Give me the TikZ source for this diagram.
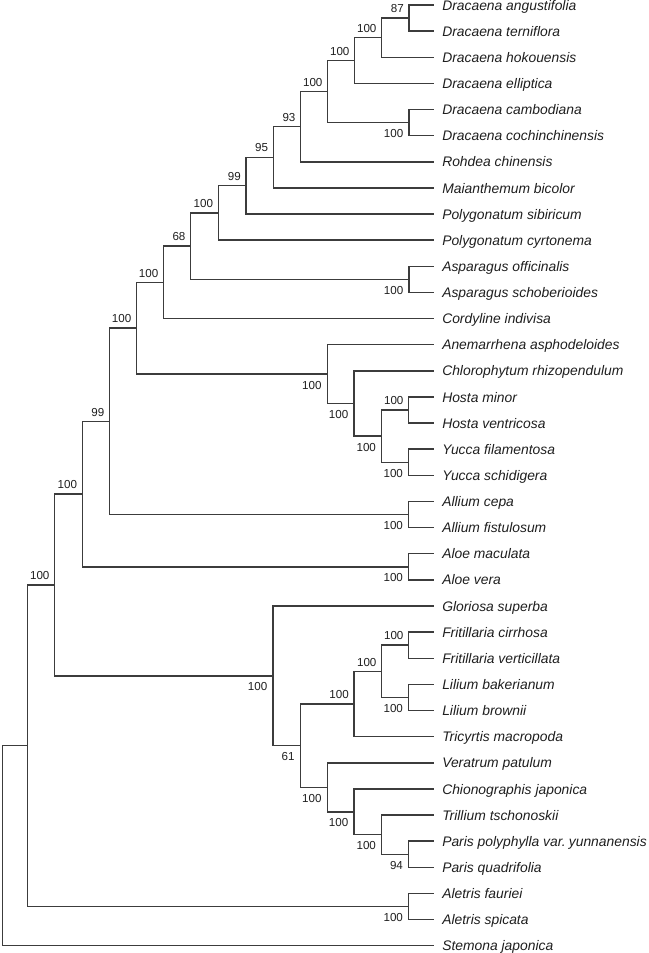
\documentclass[tikz,border=0pt]{standalone}
\usepackage{fontspec}
\setmainfont{Liberation Sans}
\newfontfamily\lsans{Liberation Sans}
\newcommand\taxfont{\lsans\itshape\fontsize{10.4}{12}\selectfont}
\newcommand\bsfont{\lsans\fontsize{8.7}{10}\selectfont}
\definecolor{linegray}{HTML}{3C3C3C}
\definecolor{txtgray}{HTML}{1E1E1E}
\tikzset{
  branch/.style={draw=linegray, line width=1.1pt, line cap=rect},
  taxon/.style={anchor=base west, inner sep=0pt, font=\taxfont, text=txtgray},
  bsup/.style={anchor=base east, inner sep=0pt, font=\bsfont, text=txtgray},
}
\newcommand\bsa[3]{\node[bsup] (#1) at ([shift={(-5,-5.3)}]#2) {#3};}
\newcommand\bsb[3]{\node[bsup] (#1) at ([shift={(-5.5,15)}]#2) {#3};}
\begin{document}
\begin{tikzpicture}[x=0.75pt, y=-0.75pt]
\useasboundingbox (0,0) rectangle (649,953);
% leaf tips
\foreach \i/\yy in {0/5.0,1/31.13,2/57.26,3/83.39,4/109.52,5/135.65,6/161.78,7/187.91,8/214.04,9/240.17,10/266.3,11/292.43,12/318.56,13/344.69,14/370.82,15/396.95,16/423.08,17/449.21,18/475.34,19/501.47,20/527.6,21/553.73,22/579.86,23/605.99,24/632.12,25/658.25,26/684.38,27/710.51,28/736.64,29/762.77,30/788.9,31/815.03,32/841.16,33/867.29,34/893.42,35/919.55,36/945.68}
  {\coordinate (l\i) at (433,\yy);}
% taxon names
\node[taxon] (t0) at ([shift={(9,5.1)}]l0) {Dracaena angustifolia};
\node[taxon] (t1) at ([shift={(9,5.1)}]l1) {Dracaena terniflora};
\node[taxon] (t2) at ([shift={(9,5.1)}]l2) {Dracaena hokouensis};
\node[taxon] (t3) at ([shift={(9,5.1)}]l3) {Dracaena elliptica};
\node[taxon] (t4) at ([shift={(9,5.1)}]l4) {Dracaena cambodiana};
\node[taxon] (t5) at ([shift={(9,5.1)}]l5) {Dracaena cochinchinensis};
\node[taxon] (t6) at ([shift={(9,5.1)}]l6) {Rohdea chinensis};
\node[taxon] (t7) at ([shift={(9,5.1)}]l7) {Maianthemum bicolor};
\node[taxon] (t8) at ([shift={(9,5.1)}]l8) {Polygonatum sibiricum};
\node[taxon] (t9) at ([shift={(9,5.1)}]l9) {Polygonatum cyrtonema};
\node[taxon] (t10) at ([shift={(9,5.1)}]l10) {Asparagus officinalis};
\node[taxon] (t11) at ([shift={(9,5.1)}]l11) {Asparagus schoberioides};
\node[taxon] (t12) at ([shift={(9,5.1)}]l12) {Cordyline indivisa};
\node[taxon] (t13) at ([shift={(9,5.1)}]l13) {Anemarrhena asphodeloides};
\node[taxon] (t14) at ([shift={(9,5.1)}]l14) {Chlorophytum rhizopendulum};
\node[taxon] (t15) at ([shift={(9,5.1)}]l15) {Hosta minor};
\node[taxon] (t16) at ([shift={(9,5.1)}]l16) {Hosta ventricosa};
\node[taxon] (t17) at ([shift={(9,5.1)}]l17) {Yucca filamentosa};
\node[taxon] (t18) at ([shift={(9,5.1)}]l18) {Yucca schidigera};
\node[taxon] (t19) at ([shift={(9,5.1)}]l19) {Allium cepa};
\node[taxon] (t20) at ([shift={(9,5.1)}]l20) {Allium fistulosum};
\node[taxon] (t21) at ([shift={(9,5.1)}]l21) {Aloe maculata};
\node[taxon] (t22) at ([shift={(9,5.1)}]l22) {Aloe vera};
\node[taxon] (t23) at ([shift={(9,5.1)}]l23) {Gloriosa superba};
\node[taxon] (t24) at ([shift={(9,5.1)}]l24) {Fritillaria cirrhosa};
\node[taxon] (t25) at ([shift={(9,5.1)}]l25) {Fritillaria verticillata};
\node[taxon] (t26) at ([shift={(9,5.1)}]l26) {Lilium bakerianum};
\node[taxon] (t27) at ([shift={(9,5.1)}]l27) {Lilium brownii};
\node[taxon] (t28) at ([shift={(9,5.1)}]l28) {Tricyrtis macropoda};
\node[taxon] (t29) at ([shift={(9,5.1)}]l29) {Veratrum patulum};
\node[taxon] (t30) at ([shift={(9,5.1)}]l30) {Chionographis japonica};
\node[taxon] (t31) at ([shift={(9,5.1)}]l31) {Trillium tschonoskii};
\node[taxon] (t32) at ([shift={(9,5.1)}]l32) {Paris polyphylla var.\hspace{0.22em}yunnanensis};
\node[taxon] (t33) at ([shift={(9,5.1)}]l33) {Paris quadrifolia};
\node[taxon] (t34) at ([shift={(9,5.1)}]l34) {Aletris fauriei};
\node[taxon] (t35) at ([shift={(9,5.1)}]l35) {Aletris spicata};
\node[taxon] (t36) at ([shift={(9,5.1)}]l36) {Stemona japonica};
% internal nodes
\coordinate (nA87) at (409,18.07);
\coordinate (nB) at (381.7,37.66);
\coordinate (nC) at (354.7,60.53);
\coordinate (nCam) at (409,122.59);
\coordinate (nD) at (327.7,91.56);
\coordinate (n93) at (300.7,126.67);
\coordinate (n95) at (273.3,157.29);
\coordinate (n99a) at (246,185.67);
\coordinate (n100d) at (218.3,212.92);
\coordinate (nAsp) at (409,279.37);
\coordinate (n68) at (190.7,246.14);
\coordinate (n100e) at (163.5,282.35);
\coordinate (nHosta) at (408.7,410.02);
\coordinate (nYucca) at (408.7,462.28);
\coordinate (nHY) at (381.7,436.15);
\coordinate (nChl) at (354,403.49);
\coordinate (nAne) at (327.3,374.09);
\coordinate (nE2) at (136.5,328.22);
\coordinate (nAll) at (408.7,514.54);
\coordinate (n99b) at (109.5,421.38);
\coordinate (nAloe) at (408.7,566.8);
\coordinate (nCC) at (82.3,494.09);
\coordinate (nFrit) at (408.7,645.19);
\coordinate (nLil) at (408.7,697.45);
\coordinate (nFL) at (381.7,671.32);
\coordinate (nLily) at (354,703.98);
\coordinate (nPar) at (408.7,854.23);
\coordinate (nTP) at (381.7,834.63);
\coordinate (nCh) at (354,811.77);
\coordinate (nMel) at (327.3,787.27);
\coordinate (n61) at (300.3,745.63);
\coordinate (nLilia) at (273,675.81);
\coordinate (nBB) at (54.7,584.95);
\coordinate (nAlet) at (408.7,906.49);
\coordinate (nAA) at (27.3,745.72);
\coordinate (root) at (2.5,845.7);
% branches
\foreach \p/\c in {nA87/l0,nA87/l1,nB/nA87,nB/l2,nC/nB,nC/l3,nCam/l4,nCam/l5,nD/nC,nD/nCam,
  n93/nD,n93/l6,n95/n93,n95/l7,n99a/n95,n99a/l8,n100d/n99a,n100d/l9,nAsp/l10,nAsp/l11,
  n68/n100d,n68/nAsp,n100e/n68,n100e/l12,nHosta/l15,nHosta/l16,nYucca/l17,nYucca/l18,
  nHY/nHosta,nHY/nYucca,nChl/l14,nChl/nHY,nAne/l13,nAne/nChl,nE2/n100e,nE2/nAne,
  nAll/l19,nAll/l20,n99b/nE2,n99b/nAll,nAloe/l21,nAloe/l22,nCC/n99b,nCC/nAloe,
  nFrit/l24,nFrit/l25,nLil/l26,nLil/l27,nFL/nFrit,nFL/nLil,nLily/nFL,nLily/l28,
  nPar/l32,nPar/l33,nTP/l31,nTP/nPar,nCh/l30,nCh/nTP,nMel/l29,nMel/nCh,n61/nLily,n61/nMel,
  nLilia/l23,nLilia/n61,nBB/nCC,nBB/nLilia,nAlet/l34,nAlet/l35,nAA/nBB,nAA/nAlet,root/nAA,root/l36}
  {\draw[branch] (\p) |- (\c);}
% support values
\bsa{b1}{nA87}{87}
\bsa{b2}{nB}{100}
\bsa{b3}{nC}{100}
\bsb{b4}{nCam}{100}
\bsa{b5}{nD}{100}
\bsa{b6}{n93}{93}
\bsa{b7}{n95}{95}
\bsa{b8}{n99a}{99}
\bsa{b9}{n100d}{100}
\bsb{b10}{nAsp}{100}
\bsa{b11}{n68}{68}
\bsa{b12}{n100e}{100}
\bsa{b13}{nE2}{100}
\bsb{b14}{nAne}{100}
\bsb{b15}{nChl}{100}
\bsb{b16}{nHY}{100}
\bsa{b17}{nHosta}{100}
\bsb{b18}{nYucca}{100}
\bsb{b19}{nAll}{100}
\bsa{b20}{n99b}{99}
\bsb{b21}{nAloe}{100}
\bsa{b22}{nCC}{100}
\bsa{b23}{nBB}{100}
\bsb{b24}{nLilia}{100}
\bsb{b25}{n61}{61}
\bsa{b26}{nLily}{100}
\bsa{b27}{nFL}{100}
\bsa{b28}{nFrit}{100}
\bsb{b29}{nLil}{100}
\bsb{b30}{nMel}{100}
\bsb{b31}{nCh}{100}
\bsb{b32}{nTP}{100}
\bsb{b33}{nPar}{94}
\bsb{b34}{nAlet}{100}
\end{tikzpicture}
\end{document}
